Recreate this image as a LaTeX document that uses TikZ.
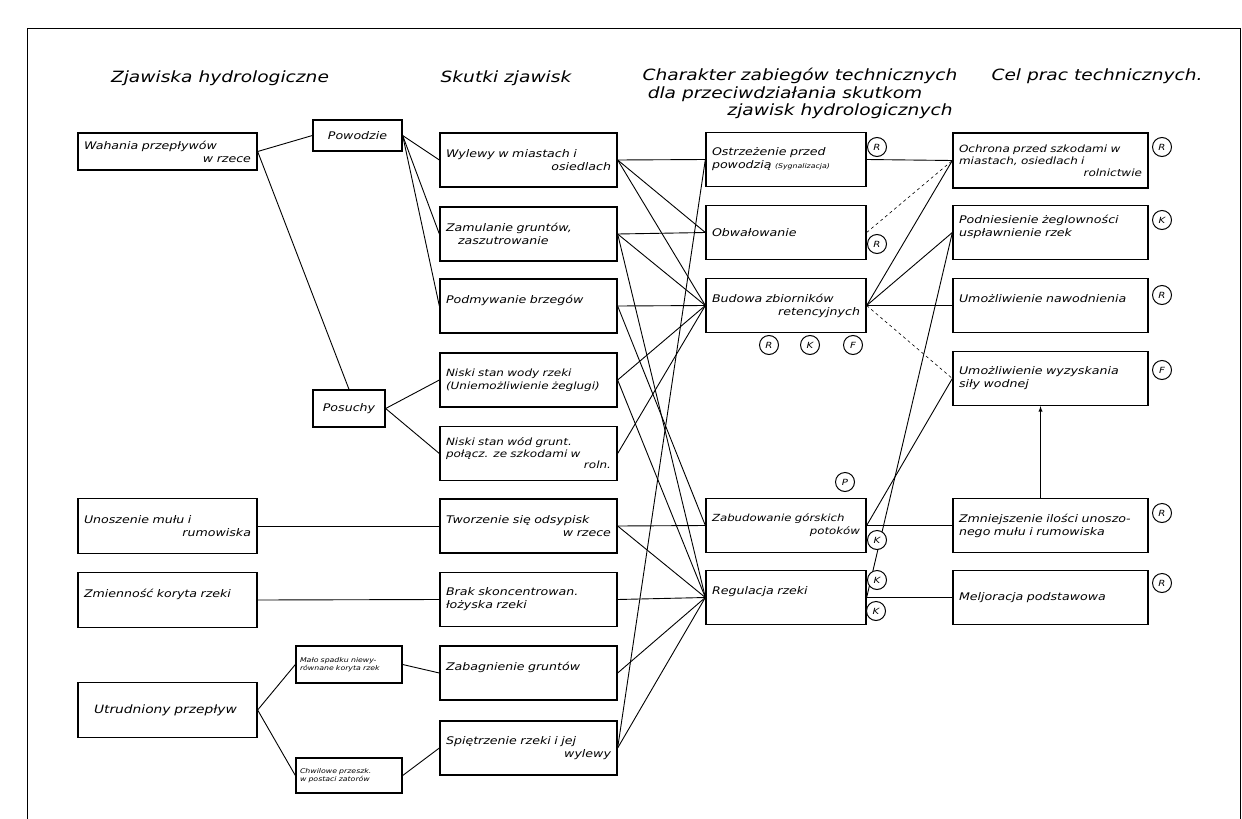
\documentclass[tikz,border=0pt]{standalone}
\usepackage{fontspec}
\setmainfont{DejaVu Sans}[FakeStretch=1.2]
\usetikzlibrary{arrows}

\newcommand{\rt}[1]{\mbox{}\hfill #1}

\begin{document}
\begin{tikzpicture}[x=1pt,y=-1pt,
    box/.style={draw, line width=1.3pt, inner xsep=6pt, inner ysep=3pt, align=left,
        font=\itshape\fontsize{10.5}{13}\selectfont},
    colA/.style={box, minimum width=179pt, text width=167pt, minimum height=55pt},
    colB/.style={box, minimum width=177pt, text width=165pt, minimum height=54pt},
    colC/.style={box, minimum width=160pt, text width=148pt, minimum height=54pt},
    colD/.style={box, minimum width=195pt, text width=183pt, minimum height=54pt},
    tag/.style={draw, circle, line width=1pt, minimum size=19pt, inner sep=0pt,
        font=\itshape\fontsize{8.5}{8.5}\selectfont},
    link/.style={line width=0.9pt},
    head/.style={font=\itshape\fontsize{15.5}{18}\selectfont}]

    \useasboundingbox (0,0) rectangle (1242,819);

        % Frame of the sheet
        \draw[line width=1pt] (27,840) -- (27,28) -- (1240,28) -- (1240,840);

        % Column headings
        \node[head] (h1) at (220,78) {Zjawiska hydrologiczne};
        \node[head] (h2) at (506,78) {Skutki zjawisk};
        \node[head] (h3) at (800,76) {Charakter zabiegów technicznych};
        \node[head] (h3b) at (785,94) {dla przeciwdziałania skutkom};
        \node[head] (h3c) at (840,111) {zjawisk hydrologicznych};
        \node[head] (h4) at (1097,76) {Cel prac technicznych.};

        % Hydrological phenomena
        \node[colA, minimum height=37pt] (wahania) at (167.5,151.5) {Wahania przepływów\\ \rt{w rzece}};
        \node[box, minimum width=89pt, minimum height=31pt] (powodzie) at (357.5,135.5) {Powodzie};
        \node[box, minimum width=72pt, minimum height=37pt] (posuchy) at (349,408.5) {Posuchy};
        \node[colA] (unoszenie) at (167.5,526) {Unoszenie mułu i\\ \rt{rumowiska}};
        \node[colA] (zmiennosc) at (167.5,600) {Zmienność koryta rzeki\\ \mbox{}};
        \node[colA, font=\itshape\fontsize{11.5}{13}\selectfont] (utrudniony) at (167.5,710) {\hspace*{10pt}Utrudniony przepływ};
        \node[box, minimum width=106pt, text width=98pt, inner xsep=4pt, minimum height=37pt,
            font=\itshape\fontsize{6.5}{8}\selectfont] (malo) at (349,664.5) {Mało spadku niewy-\\równane koryta rzek};
        \node[box, minimum width=106pt, text width=98pt, inner xsep=4pt, minimum height=35pt,
            font=\itshape\fontsize{6.5}{8}\selectfont] (chwilowe) at (349,775.5) {Chwilowe przeszk.\\w postaci zatorów};

        % Effects
        \node[colB] (wylewy) at (528.5,160) {Wylewy w miastach i\\ \rt{osiedlach}};
        \node[colB] (zamulanie) at (528.5,234) {Zamulanie gruntów,\\ \hspace*{12pt}zaszutrowanie};
        \node[colB] (podmywanie) at (528.5,306) {Podmywanie brzegów\\ \mbox{}};
        \node[colB, font=\itshape\fontsize{10}{13}\selectfont] (niskiwody) at (528.5,380) {Niski stan wody rzeki\\(Uniemożliwienie żeglugi)};
        \node[colB, font=\itshape\fontsize{10}{11.5}\selectfont] (niskigrunt) at (528.5,453.5) {Niski stan wód grunt.\\połącz. ze szkodami w\\ \rt{roln.}};
        \node[colB] (tworzenie) at (528.5,526) {Tworzenie się odsypisk\\ \rt{w rzece}};
        \node[colB] (brak) at (528.5,599.5) {Brak skoncentrowan.\\łożyska rzeki};
        \node[colB] (zabagnienie) at (528.5,673) {Zabagnienie gruntów\\ \mbox{}};
        \node[colB] (spietrzenie) at (528.5,748) {Spiętrzenie rzeki i jej\\ \rt{wylewy}};

        % Technical measures
        \node[colC] (ostrzezenie) at (786,159.5) {Ostrzeżenie przed\\powodzią {\fontsize{6.5}{8}\selectfont(Sygnalizacja)}};
        \node[colC] (obwalowanie) at (786,232.5) {Obwałowanie};
        \node[colC] (budowa) at (786,305.5) {Budowa zbiorników\\ \rt{retencyjnych}};
        \node[colC, font=\itshape\fontsize{9.8}{13}\selectfont] (zabudowanie) at (786,525.5) {Zabudowanie górskich\\ \rt{potoków}};
        \node[colC] (regulacja) at (786,597.5) {Regulacja rzeki\\ \mbox{}};

        % Aims of the works
        \node[colD, minimum height=55pt, font=\itshape\fontsize{10}{12}\selectfont] (ochrona) at (1050.5,160.5) {Ochrona przed szkodami w\\miastach, osiedlach i\\ \rt{rolnictwie}};
        \node[colD] (podniesienie) at (1050.5,232.5) {Podniesienie żeglowności\\uspławnienie rzek\\ \mbox{}};
        \node[colD] (nawodnienie) at (1050.5,305.5) {Umożliwienie nawodnienia\\ \mbox{}};
        \node[colD] (wyzyskanie) at (1050.5,378.5) {Umożliwienie wyzyskania\\siły wodnej};
        \node[colD] (zmniejszenie) at (1050.5,525.5) {Zmniejszenie ilości unoszo-\\nego mułu i rumowiska};
        \node[colD] (melioracja) at (1050.5,597.5) {Meljoracja podstawowa};

        % Links between the columns
        \draw[link] (wahania.east) -- (powodzie.west);
        \draw[link] (wahania.east) -- (posuchy.north);
        \draw[link] (utrudniony.east) -- (malo.west);
        \draw[link] (utrudniony.east) -- (chwilowe.west);
        \foreach \t in {wylewy,zamulanie,podmywanie}
            \draw[link] (powodzie.east) -- (\t.west);
        \foreach \t in {niskiwody,niskigrunt}
            \draw[link] (posuchy.east) -- (\t.west);
        \draw[link] (unoszenie.east) -- (tworzenie.west);
        \draw[link] (zmiennosc.east) -- (brak.west);
        \draw[link] (malo.east) -- (zabagnienie.west);
        \draw[link] (chwilowe.east) -- (spietrzenie.west);

        \foreach \a/\b in {wylewy/ostrzezenie, wylewy/obwalowanie, wylewy/budowa,
                zamulanie/obwalowanie, zamulanie/budowa, zamulanie/regulacja,
                podmywanie/budowa, podmywanie/zabudowanie,
                niskiwody/budowa, niskiwody/regulacja, niskigrunt/budowa,
                tworzenie/zabudowanie, tworzenie/regulacja, brak/regulacja,
                zabagnienie/regulacja, spietrzenie/regulacja, spietrzenie/ostrzezenie}
            \draw[link] (\a.east) -- (\b.west);

        \foreach \a/\b in {ostrzezenie/ochrona, budowa/ochrona, budowa/podniesienie,
                budowa/nawodnienie, zabudowanie/zmniejszenie, zabudowanie/wyzyskanie,
                regulacja/melioracja, regulacja/podniesienie}
            \draw[link] (\a.east) -- (\b.west);
        \draw[link, line width=0.6pt, dashed] (obwalowanie.east) -- (ochrona.west);
        \draw[link, line width=0.6pt, dashed] (budowa.east) -- (wyzyskanie.west);

        \draw[link, -latex] ([xshift=-10pt]zmniejszenie.north) -- ([xshift=-10pt]wyzyskanie.south);

        % Circled letters
        \node[tag, fill=white] (cOst) at (877,147) {R};
        \node[tag, fill=white] (cObw) at (877,244) {R};
        \node[tag] (cBudR) at (769,345) {R};
        \node[tag] (cBudK) at (810,345) {K};
        \node[tag] (cBudF) at (853,345) {F};
        \node[tag] (cZabP) at (845,482) {P};
        \node[tag, fill=white] (cZabK) at (877,540) {K};
        \node[tag, fill=white] (cRegK) at (877,580) {K};
        \node[tag, fill=white] (cRegK2) at (876,611) {K};
        \node[tag] (cOch) at (1162,147) {R};
        \node[tag] (cPod) at (1162,220) {K};
        \node[tag] (cNaw) at (1162,295) {R};
        \node[tag] (cWyz) at (1162,370) {F};
        \node[tag] (cZmn) at (1162,513) {R};
        \node[tag] (cMel) at (1162,583) {R};

    \end{tikzpicture}
\end{document}
